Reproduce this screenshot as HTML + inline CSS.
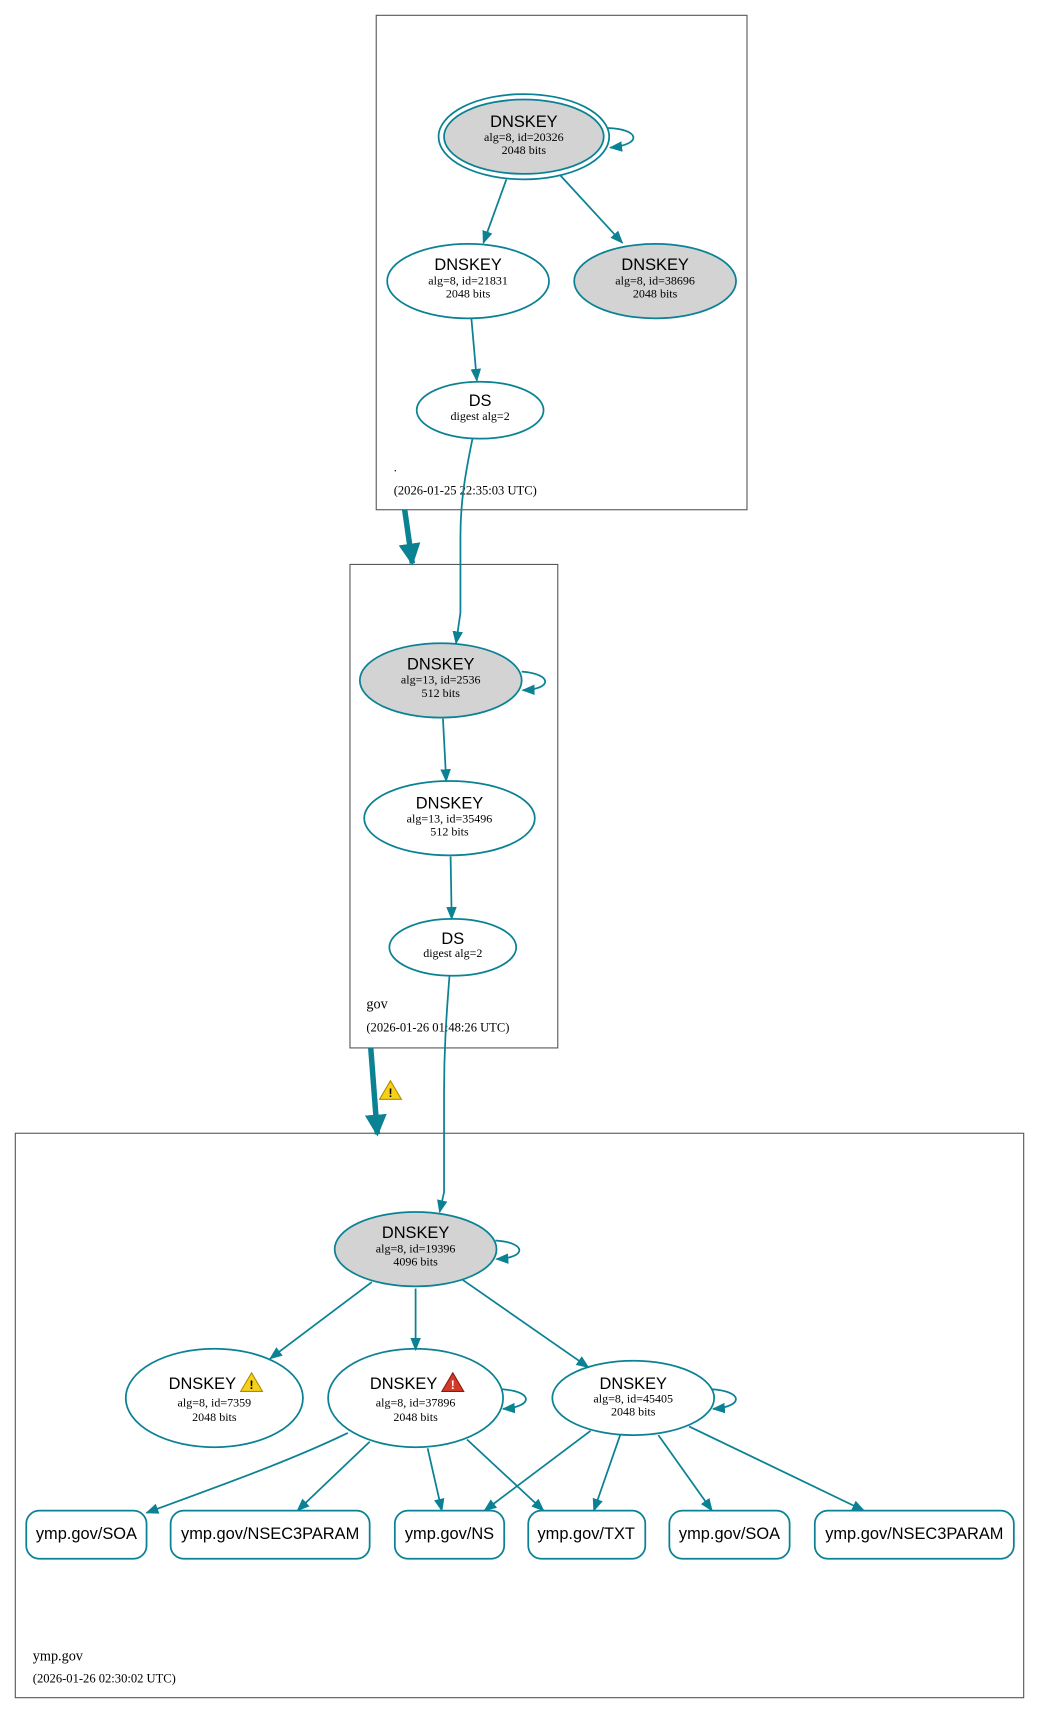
<!DOCTYPE html>
<html><head><meta charset="utf-8"><style>
html,body{margin:0;padding:0;background:#fff;}
svg{display:block;}
.t{font-family:"Liberation Sans",sans-serif;font-size:15px;text-anchor:middle;fill:#000;}
.s{font-family:"Liberation Serif",serif;font-size:11px;text-anchor:middle;fill:#000;}
.l{font-family:"Liberation Serif",serif;font-size:11.5px;fill:#000;}
.l2{font-family:"Liberation Serif",serif;font-size:14px;fill:#000;}
.e{fill:none;stroke:#0a8294;stroke-width:1.6;marker-end:url(#a);}
.n{stroke:#0a8294;stroke-width:1.6;}
.box{fill:none;stroke:#555;stroke-width:1;}
</style></head><body>
<svg width="1039" height="1713" viewBox="0 0 950 1566" preserveAspectRatio="none" xmlns="http://www.w3.org/2000/svg">
<defs>
<marker id="a" viewBox="0 0 10 10" refX="9" refY="5" markerWidth="12" markerHeight="12" markerUnits="userSpaceOnUse" orient="auto"><path d="M0,1 L10,5 L0,9 z" fill="#0a8294"/></marker>
<marker id="b" viewBox="0 0 10 10" refX="9" refY="5" markerWidth="4" markerHeight="4" orient="auto"><path d="M0,0 L10,5 L0,10 z" fill="#0a8294"/></marker>
</defs>
<rect class="box" x="344" y="14" width="339" height="452"/>
<rect class="box" x="320" y="516" width="190" height="442"/>
<rect class="box" x="14" y="1036" width="922" height="516"/>
<path d="M370,466 L377,515" stroke="#0a8294" stroke-width="5" fill="none" marker-end="url(#b)"/>
<path d="M339,958 L345,1037" stroke="#0a8294" stroke-width="5" fill="none" marker-end="url(#b)"/>
<g transform="translate(357,997)"><path d="M0,-9 L10,8 L-10,8 z" fill="#f5d11a" stroke="#b08a00" stroke-width="1"/><text x="0" y="6" font-family="Liberation Sans" font-size="11" font-weight="bold" text-anchor="middle">!</text></g>

<ellipse cx="479" cy="125" rx="78" ry="39" fill="none" class="n"/>
<ellipse cx="479" cy="125" rx="73" ry="34" fill="#d3d3d3" class="n"/>
<text class="t" x="479" y="116">DNSKEY</text>
<text class="s" x="479" y="129">alg=8, id=20326</text>
<text class="s" x="479" y="141">2048 bits</text>
<path class="e" d="M556,117 C585,118 588,132 558,135"/>
<ellipse cx="428" cy="257" rx="74" ry="34" fill="#fff" class="n"/>
<text class="t" x="428" y="247">DNSKEY</text>
<text class="s" x="428" y="260">alg=8, id=21831</text>
<text class="s" x="428" y="272">2048 bits</text>
<ellipse cx="599" cy="257" rx="74" ry="34" fill="#d3d3d3" class="n"/>
<text class="t" x="599" y="247">DNSKEY</text>
<text class="s" x="599" y="260">alg=8, id=38696</text>
<text class="s" x="599" y="272">2048 bits</text>
<ellipse cx="439" cy="375" rx="58" ry="26" fill="#fff" class="n"/>
<text class="t" x="439" y="371">DS</text>
<text class="s" x="439" y="384">digest alg=2</text>
<path class="e" d="M463,164 L442,222"/>
<path class="e" d="M512,160 L569,222"/>
<path class="e" d="M431,291 L436,348"/>
<text class="l" x="360" y="431">.</text>
<text class="l" x="360" y="452">(2026-01-25 22:35:03 UTC)</text>
<path class="e" d="M432,401 C425,435 421,460 421,490 L421,560 L417,588"/>

<ellipse cx="403" cy="622" rx="74" ry="34" fill="#d3d3d3" class="n"/>
<text class="t" x="403" y="612">DNSKEY</text>
<text class="s" x="403" y="625">alg=13, id=2536</text>
<text class="s" x="403" y="637">512 bits</text>
<path class="e" d="M477,614 C505,616 506,630 478,631"/>
<ellipse cx="411" cy="748" rx="78" ry="34" fill="#fff" class="n"/>
<text class="t" x="411" y="739">DNSKEY</text>
<text class="s" x="411" y="752">alg=13, id=35496</text>
<text class="s" x="411" y="764">512 bits</text>
<ellipse cx="414" cy="866" rx="58" ry="26" fill="#fff" class="n"/>
<text class="t" x="414" y="863">DS</text>
<text class="s" x="414" y="875">digest alg=2</text>
<path class="e" d="M405,657 L408,714"/>
<path class="e" d="M412,783 L413,840"/>
<text class="l2" x="335" y="922" style="font-size:13px">gov</text>
<text class="l" x="335" y="943">(2026-01-26 01:48:26 UTC)</text>
<path class="e" d="M411,892 C408,930 406,960 406,1000 L406,1090 L402,1108"/>

<ellipse cx="380" cy="1142" rx="74" ry="34" fill="#d3d3d3" class="n"/>
<text class="t" x="380" y="1132">DNSKEY</text>
<text class="s" x="380" y="1145">alg=8, id=19396</text>
<text class="s" x="380" y="1157">4096 bits</text>
<path class="e" d="M453,1134 C482,1136 482,1150 454,1151"/>
<ellipse cx="196" cy="1278" rx="81" ry="45" fill="#fff" class="n"/>
<text class="t" x="185" y="1270">DNSKEY</text>
<g transform="translate(230,1264)"><path d="M0,-9 L10,8 L-10,8 z" fill="#f5d11a" stroke="#b08a00" stroke-width="1"/><text x="0" y="6" font-family="Liberation Sans" font-size="11" font-weight="bold" text-anchor="middle">!</text></g>
<text class="s" x="196" y="1286">alg=8, id=7359</text>
<text class="s" x="196" y="1299">2048 bits</text>
<ellipse cx="380" cy="1278" rx="80" ry="45" fill="#fff" class="n"/>
<text class="t" x="369" y="1270">DNSKEY</text>
<g transform="translate(414,1264)"><path d="M0,-9 L10,8 L-10,8 z" fill="#d43a2a" stroke="#8a1a10" stroke-width="1"/><text x="0" y="6" font-family="Liberation Sans" font-size="11" font-weight="bold" text-anchor="middle" fill="#fff">!</text></g>
<text class="s" x="380" y="1286">alg=8, id=37896</text>
<text class="s" x="380" y="1299">2048 bits</text>
<path class="e" d="M459,1270 C488,1272 488,1286 460,1288"/>
<ellipse cx="579" cy="1278" rx="74" ry="34" fill="#fff" class="n"/>
<text class="t" x="579" y="1270">DNSKEY</text>
<text class="s" x="579" y="1282">alg=8, id=45405</text>
<text class="s" x="579" y="1294">2048 bits</text>
<path class="e" d="M651,1270 C680,1272 680,1286 652,1288"/>
<path class="e" d="M340,1172 L247,1242"/>
<path class="e" d="M380,1178 L380,1234"/>
<path class="e" d="M423,1170 L538,1250"/>
<path class="e" d="M318,1310 C260,1338 190,1362 134,1383"/>
<path class="e" d="M338,1318 L272,1381"/>
<path class="e" d="M391,1324 L404,1381"/>
<path class="e" d="M427,1316 L497,1381"/>
<path class="e" d="M540,1308 L443,1381"/>
<path class="e" d="M567,1312 L543,1381"/>
<path class="e" d="M602,1312 L651,1381"/>
<path class="e" d="M630,1304 L790,1381"/>
<g fill="#fff" class="n">
<rect x="24" y="1381" width="110" height="44" rx="12"/>
<rect x="156" y="1381" width="182" height="44" rx="12"/>
<rect x="361" y="1381" width="100" height="44" rx="12"/>
<rect x="483" y="1381" width="107" height="44" rx="12"/>
<rect x="612" y="1381" width="110" height="44" rx="12"/>
<rect x="745" y="1381" width="182" height="44" rx="12"/>
</g>
<text class="t" x="79" y="1407">ymp.gov/SOA</text>
<text class="t" x="247" y="1407">ymp.gov/NSEC3PARAM</text>
<text class="t" x="411" y="1407">ymp.gov/NS</text>
<text class="t" x="536" y="1407">ymp.gov/TXT</text>
<text class="t" x="667" y="1407">ymp.gov/SOA</text>
<text class="t" x="836" y="1407">ymp.gov/NSEC3PARAM</text>
<text class="l2" x="30" y="1518" style="font-size:13px">ymp.gov</text>
<text class="l" x="30" y="1538">(2026-01-26 02:30:02 UTC)</text>
</svg>
</body></html>
